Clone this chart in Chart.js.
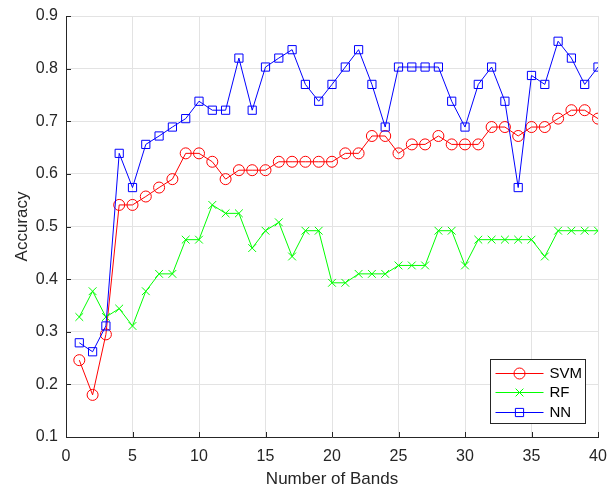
<!DOCTYPE html>
<html>
<head>
<meta charset="utf-8">
<script src="https://cdn.jsdelivr.net/npm/chart.js@4/dist/chart.umd.min.js"></script>
<style>
  html, body { margin: 0; padding: 0; background: #ffffff; }
  #wrap { width: 608px; height: 490px; }
</style>
</head>
<body>
<div id="wrap"><canvas id="c" width="608" height="490"></canvas></div>
<script>
// Number of spectral bands used
const bands = [1,2,3,4,5,6,7,8,9,10,11,12,13,14,15,16,17,18,19,20,
               21,22,23,24,25,26,27,28,29,30,31,32,33,34,35,36,37,38,39,40];

// Classification accuracy per classifier
const svmAcc = [0.246,0.180,0.295,0.541,0.541,0.557,0.574,0.590,0.639,0.639,
                0.623,0.590,0.607,0.607,0.607,0.623,0.623,0.623,0.623,0.623,
                0.639,0.639,0.672,0.672,0.639,0.656,0.656,0.672,0.656,0.656,
                0.656,0.689,0.689,0.672,0.689,0.689,0.705,0.721,0.721,0.705];

const rfAcc  = [0.328,0.377,0.328,0.344,0.311,0.377,0.410,0.410,0.475,0.475,
                0.541,0.525,0.525,0.459,0.492,0.508,0.443,0.492,0.492,0.393,
                0.393,0.410,0.410,0.410,0.426,0.426,0.426,0.492,0.492,0.426,
                0.475,0.475,0.475,0.475,0.475,0.443,0.492,0.492,0.492,0.492];

const nnAcc  = [0.279,0.262,0.311,0.639,0.574,0.656,0.672,0.689,0.705,0.738,
                0.721,0.721,0.820,0.721,0.803,0.820,0.836,0.770,0.738,0.770,
                0.803,0.836,0.770,0.689,0.803,0.803,0.803,0.803,0.738,0.689,
                0.770,0.803,0.738,0.574,0.787,0.770,0.852,0.820,0.770,0.803];

const seriesNames = ['SVM', 'RF', 'NN'];
const xTickValues = [0, 5, 10, 15, 20, 25, 30, 35, 40];
const yTickValues = [0.1, 0.2, 0.3, 0.4, 0.5, 0.6, 0.7, 0.8, 0.9];

const AXIS_COLOR = '#262626';
const GRID_COLOR = '#e3e3e3';
const FONT = '"Liberation Sans", Arial, Helvetica, sans-serif';

function toPoints(values) {
  return bands.map((b, i) => ({ x: b, y: values[i] }));
}

function makeSeries(label, values, color, style, radius, order) {
  return {
    label,
    data: toPoints(values),
    borderColor: color,
    backgroundColor: 'rgba(0,0,0,0)',
    borderWidth: 1,
    pointStyle: style,
    pointRadius: radius,
    pointHoverRadius: radius,
    pointBorderColor: color,
    pointBackgroundColor: 'rgba(0,0,0,0)',
    pointBorderWidth: 1,
    tension: 0,
    fill: false,
    order
  };
}

const datasets = [
  makeSeries(seriesNames[0], svmAcc, '#ff0000', 'circle', 5.5, 3),
  makeSeries(seriesNames[1], rfAcc, '#00ff00', 'crossRot', 5.5, 2),
  makeSeries(seriesNames[2], nnAcc, '#0000ff', 'rect', 5.8, 1)
];

// Keep the plot frame fixed: no extra room for overhanging tick labels
function fixScale(size) {
  return scale => {
    if (scale.isHorizontal()) scale.height = size; else scale.width = size;
    scale.paddingLeft = 0;
    scale.paddingRight = 0;
    scale.paddingTop = 0;
    scale.paddingBottom = 0;
  };
}

// Inward tick marks on the left and bottom axes
const innerTicks = {
  id: 'innerTicks',
  afterDatasetsDraw(chart) {
    const { ctx, chartArea, scales } = chart;
    const len = 5;
    ctx.save();
    ctx.strokeStyle = AXIS_COLOR;
    ctx.lineWidth = 1;
    ctx.beginPath();
    xTickValues.forEach(v => {
      const px = Math.round(scales.x.getPixelForValue(v)) + 0.5;
      ctx.moveTo(px, chartArea.bottom);
      ctx.lineTo(px, chartArea.bottom - len);
    });
    yTickValues.forEach(v => {
      const py = Math.round(scales.y.getPixelForValue(v)) + 0.5;
      ctx.moveTo(chartArea.left, py);
      ctx.lineTo(chartArea.left + len, py);
    });
    ctx.stroke();
    ctx.restore();
  }
};

// Boxed legend in the lower-right corner of the plot
const boxLegend = {
  id: 'boxLegend',
  afterDraw(chart) {
    const { ctx, chartArea } = chart;
    const boxW = 95, rowH = 19.7, boxH = 64;
    const x0 = Math.round(chartArea.right - 13 - boxW) + 0.5;
    const y0 = Math.round(chartArea.bottom - 14 - boxH) + 0.5;
    ctx.save();
    ctx.fillStyle = '#ffffff';
    ctx.fillRect(x0, y0, boxW, boxH);
    ctx.strokeStyle = AXIS_COLOR;
    ctx.lineWidth = 1;
    ctx.strokeRect(x0, y0, boxW, boxH);
    ctx.font = '15px ' + FONT;
    ctx.textBaseline = 'middle';
    ctx.textAlign = 'left';
    chart.data.datasets.forEach((ds, i) => {
      const cy = Math.round(y0 + 13 + i * rowH) + 0.5;
      const lx0 = x0 + 5, lx1 = x0 + 53;
      ctx.strokeStyle = ds.borderColor;
      ctx.lineWidth = 1;
      ctx.beginPath();
      ctx.moveTo(lx0, cy);
      ctx.lineTo(lx1, cy);
      ctx.stroke();
      ctx.fillStyle = 'rgba(0,0,0,0)';
      Chart.helpers.drawPoint(ctx, {
        pointStyle: ds.pointStyle,
        radius: ds.pointRadius,
        rotation: 0,
        borderWidth: 1
      }, (lx0 + lx1) / 2, cy);
      ctx.fillStyle = '#000000';
      ctx.fillText(ds.label, x0 + 59, cy + 0.5);
    });
    ctx.restore();
  }
};

new Chart(document.getElementById('c'), {
  type: 'line',
  data: { datasets },
  options: {
    responsive: false,
    animation: false,
    events: [],
    layout: { padding: { left: 0, top: 16, right: 10, bottom: 0 } },
    plugins: {
      legend: { display: false },
      tooltip: { enabled: false },
      title: { display: false }
    },
    scales: {
      x: {
        type: 'linear',
        min: 0,
        max: 40,
        afterBuildTicks(scale) { scale.ticks = xTickValues.map(v => ({ value: v })); },
        afterFit: fixScale(53),
        ticks: {
          color: AXIS_COLOR,
          font: { family: FONT, size: 16 },
          padding: 10,
          maxRotation: 0,
          autoSkip: false
        },
        grid: { color: GRID_COLOR, drawTicks: false, lineWidth: 1 },
        border: { display: true, color: AXIS_COLOR, width: 1 },
        title: {
          display: true,
          text: 'Number of Bands',
          color: AXIS_COLOR,
          font: { family: FONT, size: 17 },
          padding: { top: 0, bottom: 0 }
        }
      },
      y: {
        type: 'linear',
        min: 0.1,
        max: 0.9,
        afterBuildTicks(scale) { scale.ticks = yTickValues.map(v => ({ value: v })); },
        afterFit: fixScale(66),
        ticks: {
          color: AXIS_COLOR,
          font: { family: FONT, size: 16 },
          padding: 8,
          callback: v => Number(v).toFixed(1)
        },
        grid: { color: GRID_COLOR, drawTicks: false, lineWidth: 1 },
        border: { display: true, color: AXIS_COLOR, width: 1 },
        title: {
          display: true,
          text: 'Accuracy',
          color: AXIS_COLOR,
          font: { family: FONT, size: 17 },
          padding: { top: 12, bottom: 0 }
        }
      }
    }
  },
  plugins: [innerTicks, boxLegend]
});
</script>
</body>
</html>
